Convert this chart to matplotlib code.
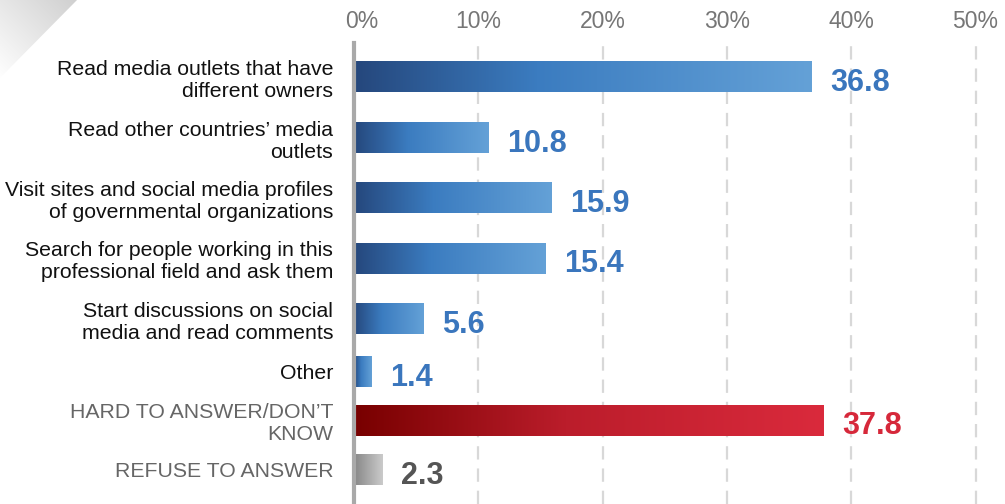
import numpy as np
import matplotlib.pyplot as plt
from matplotlib.colors import LinearSegmentedColormap
from matplotlib.patches import Polygon
from matplotlib.transforms import ScaledTranslation

plt.rcParams['font.family'] = ['Liberation Sans', 'DejaVu Sans']

categories = [
    "Read media outlets that have\ndifferent owners",
    "Read other countries’ media\noutlets",
    "Visit sites and social media profiles\nof governmental organizations",
    "Search for people working in this\nprofessional field and ask them",
    "Start discussions on social\nmedia and read comments",
    "Other",
    "HARD TO ANSWER/DON’T\nKNOW",
    "REFUSE TO ANSWER",
]
values = [36.8, 10.8, 15.9, 15.4, 5.6, 1.4, 37.8, 2.3]
groups = ['answer'] * 6 + ['hard', 'refuse']
xticks = [0, 10, 20, 30, 40, 50]

# layout: row centres in px from the top of the figure, bar thickness in px
row_pos = [77, 138, 198, 258.5, 319, 372, 420.5, 470]
bar_h = 31

bar_cmaps = {
    'answer': LinearSegmentedColormap.from_list('blue', [(0, '#25477c'), (0.4, '#3b7cc0'), (1, '#64a1d7')]),
    'hard': LinearSegmentedColormap.from_list('red', [(0, '#780000'), (0.45, '#bb1d2b'), (1, '#da2a3c')]),
    'refuse': LinearSegmentedColormap.from_list('grey', [(0, '#868686'), (1, '#cbcbcb')]),
}
value_colors = {'answer': '#3a76bd', 'hard': '#d6283a', 'refuse': '#555555'}
label_colors = {'answer': '#111111', 'hard': '#666666', 'refuse': '#666666'}

W, H = 1005, 504
fig = plt.figure(figsize=(W / 100, H / 100), dpi=100)

# shaded corner in the top left
bg = fig.add_axes([0, 0, 1, 1])
bg.set_xlim(0, W)
bg.set_ylim(H, 0)
bg.axis('off')
xx, yy = np.meshgrid(np.linspace(0, 80, 120), np.linspace(0, 80, 120))
shade = (xx - yy + 80) / 160
corner_cmap = LinearSegmentedColormap.from_list('corner', ['white', '#cfcfcf'])
corner = bg.imshow(shade, extent=(0, 80, 80, 0), cmap=corner_cmap, vmin=0, vmax=1, aspect='auto')
tri = Polygon([(0, 0), (77, 0), (0, 78)], closed=True, transform=bg.transData)
corner.set_clip_path(tri)
bg.set_xlim(0, W)
bg.set_ylim(H, 0)

x0 = 354
scale = 12.43  # px per percentage point
top = 43
ax = fig.add_axes([x0 / W, 0, (W - x0) / W, (H - top) / H])
ax.patch.set_alpha(0)

grad = np.linspace(0, 1, 256).reshape(1, -1)
for v, y, g in zip(values, row_pos, groups):
    ax.imshow(grad, extent=(0, v, y + bar_h / 2, y - bar_h / 2), cmap=bar_cmaps[g],
              aspect='auto', interpolation='bilinear', zorder=2)
    ax.text(v + 1.5, y + 6, f'{v}', color=value_colors[g], fontsize=22,
            fontweight='bold', va='center', ha='left', zorder=3)

ax.set_xlim(0, (W - x0) / scale)
ax.set_ylim(H, top)

for t in xticks[1:]:
    ax.axvline(t, color='#d8d8d8', lw=1.6, dashes=(6, 4), zorder=0)

ax.xaxis.tick_top()
ax.set_xticks(xticks, [f'{t}%' for t in xticks])
ax.tick_params(axis='x', length=0, pad=7, labelsize=16.5, labelcolor='#767676')
# first label sits a little right of the axis line
lbl0 = ax.xaxis.get_major_ticks()[0].label2
lbl0.set_transform(lbl0.get_transform() + ScaledTranslation(0.08, 0, fig.dpi_scale_trans))

ax.set_yticks(row_pos, categories)
ax.tick_params(axis='y', length=0, pad=15, labelsize=15.3)
for lbl, g in zip(ax.get_yticklabels(), groups):
    lbl.set_color(label_colors[g])
    lbl.set_linespacing(1.2)

for side in ['top', 'right', 'bottom']:
    ax.spines[side].set_visible(False)
ax.spines['left'].set_color('#a9a9a9')
ax.spines['left'].set_linewidth(3)
ax.spines['left'].set_zorder(4)

fig.savefig('out.png', dpi=100)
